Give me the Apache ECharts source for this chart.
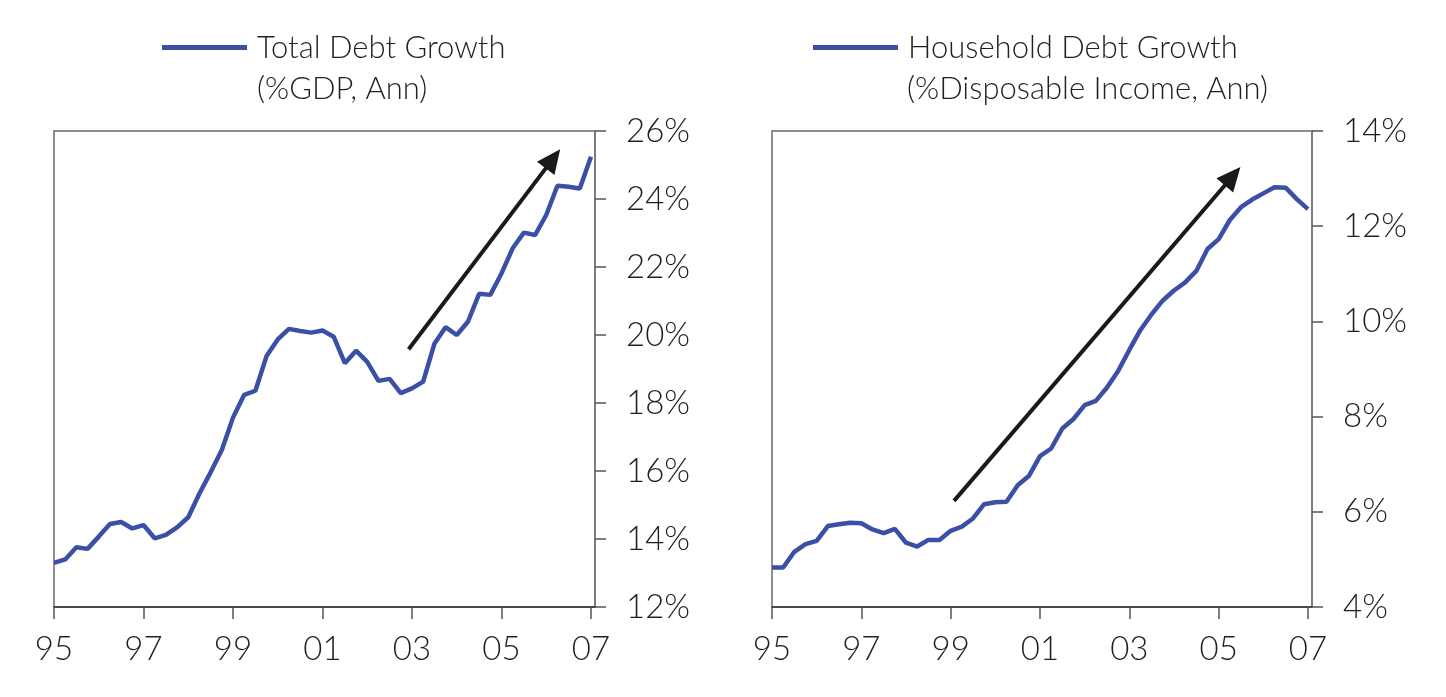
<!DOCTYPE html>
<html>
<head>
<meta charset="utf-8">
<script src="https://cdn.jsdelivr.net/npm/echarts@6/dist/echarts.min.js"></script>
<style>
html,body{margin:0;padding:0;background:#fff;}
#c{width:1446px;height:697px;}
</style>
</head>
<body>
<div id="c"></div>
<script>
// Quarterly observations, 1995Q1 .. 2007Q1 (index 0..48)
const totalDebtGrowth = [
  13.30, 13.40, 13.76, 13.71, 14.07, 14.44, 14.50, 14.31, 14.41, 14.02,
  14.12, 14.34, 14.64, 15.34, 15.96, 16.62, 17.57, 18.24, 18.36, 19.38,
  19.87, 20.18, 20.12, 20.07, 20.13, 19.95, 19.17, 19.54, 19.21, 18.65,
  18.71, 18.29, 18.43, 18.63, 19.74, 20.23, 20.00, 20.39, 21.21, 21.18,
  21.81, 22.55, 23.01, 22.94, 23.53, 24.39, 24.36, 24.31, 25.24
];
const householdDebtGrowth = [
  4.83, 4.83, 5.16, 5.32, 5.39, 5.70, 5.74, 5.77, 5.76, 5.63,
  5.55, 5.64, 5.35, 5.27, 5.41, 5.41, 5.60, 5.69, 5.86, 6.16,
  6.20, 6.21, 6.56, 6.75, 7.17, 7.33, 7.75, 7.95, 8.24, 8.33,
  8.61, 8.96, 9.40, 9.82, 10.15, 10.44, 10.65, 10.82, 11.06, 11.52,
  11.73, 12.13, 12.40, 12.56, 12.69, 12.82, 12.81, 12.57, 12.36
];
const xTickLabels = ['95', '97', '99', '01', '03', '05', '07'];
const xTickValues = [0, 8, 16, 24, 32, 40, 48];
const leftArrow = [[31.7, 19.58], [44.6, 25.18]];
const rightArrow = [[16.3, 6.23], [41.25, 13.05]];
const names = ['Total Debt Growth', 'Household Debt Growth'];
const subtitles = ['(%GDP, Ann)', '(%Disposable Income, Ann)'];

const FONT = 'Lato';
const TXT = '#231f20';
const BLUE = '#3a4fa5';

function xAxis(gi) {
  return {
    type: 'value', gridIndex: gi, min: 0, max: 48.36,
    axisLine: { show: true, onZero: false, lineStyle: { color: '#333', width: 1.5 } },
    axisTick: { show: true, length: 12, lineStyle: { color: '#555', width: 1.5 }, customValues: xTickValues },
    axisLabel: {
      customValues: xTickValues, margin: 26, fontFamily: FONT, fontWeight: 300, fontSize: 33, color: TXT,
      formatter: v => xTickLabels[Math.round(v / 8)] || ''
    },
    splitLine: { show: false }
  };
}
function yAxis(gi, min, max) {
  return {
    type: 'value', gridIndex: gi, position: 'right', min: min, max: max, interval: 2,
    axisLine: { show: true, onZero: false, lineStyle: { color: '#777', width: 1.5 } },
    axisTick: { show: true, inside: false, length: 11, lineStyle: { color: '#555', width: 1.5 } },
    axisLabel: { margin: 31, fontFamily: FONT, fontWeight: 300, fontSize: 33, color: TXT, formatter: v => v + '%' },
    splitLine: { show: false }
  };
}
function arrowLine(pts) {
  return {
    silent: true, animation: false,
    symbol: ['none', 'triangle'], symbolSize: [22, 24],
    lineStyle: { color: '#1a1a1a', width: 4, type: 'solid' },
    itemStyle: { color: '#1a1a1a' },
    label: { show: false },
    data: [[{ coord: pts[0] }, { coord: pts[1] }]]
  };
}

const legendText = { fontFamily: FONT, fontWeight: 300, fontSize: 31, color: TXT, padding: [0, 0, 0, 5] };
const chart = echarts.init(document.getElementById('c'), null, { renderer: 'canvas' });
chart.setOption({
  animation: false,
  backgroundColor: '#fff',
  grid: [
    { left: 54, top: 131, width: 541, height: 476, show: true, borderColor: '#6a6a6a', borderWidth: 1.5, containLabel: false },
    { left: 772, top: 131, width: 540, height: 476, show: true, borderColor: '#6a6a6a', borderWidth: 1.5, containLabel: false }
  ],
  legend: [
    { data: [names[0]], left: 157, top: 27, icon: 'rect', itemWidth: 85, itemHeight: 5, itemGap: 0,
      itemStyle: { color: BLUE }, textStyle: legendText },
    { data: [names[1]], left: 808, top: 27, icon: 'rect', itemWidth: 85, itemHeight: 5, itemGap: 0,
      itemStyle: { color: BLUE }, textStyle: legendText }
  ],
  title: [
    { text: subtitles[0], left: 252, top: 68, textStyle: { fontFamily: FONT, fontWeight: 300, fontSize: 31, color: TXT } },
    { text: subtitles[1], left: 902, top: 68, textStyle: { fontFamily: FONT, fontWeight: 300, fontSize: 31, color: TXT } }
  ],
  xAxis: [xAxis(0), xAxis(1)],
  yAxis: [yAxis(0, 12, 26), yAxis(1, 4, 14)],
  series: [
    {
      name: names[0], type: 'line', xAxisIndex: 0, yAxisIndex: 0, symbol: 'none',
      lineStyle: { color: BLUE, width: 4.5 }, itemStyle: { color: BLUE },
      data: totalDebtGrowth.map((v, i) => [i, v]),
      markLine: arrowLine(leftArrow)
    },
    {
      name: names[1], type: 'line', xAxisIndex: 1, yAxisIndex: 1, symbol: 'none',
      lineStyle: { color: BLUE, width: 4.5 }, itemStyle: { color: BLUE },
      data: householdDebtGrowth.map((v, i) => [i, v]),
      markLine: arrowLine(rightArrow)
    }
  ]
});
</script>
</body>
</html>
